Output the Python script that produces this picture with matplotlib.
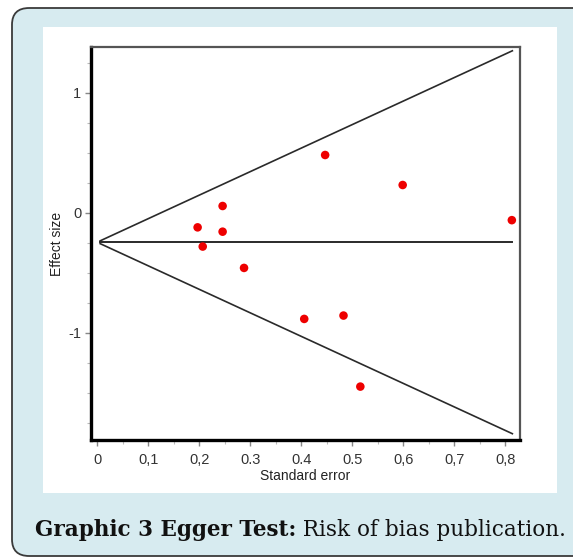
import matplotlib
matplotlib.use("Agg")
import matplotlib.pyplot as plt
from matplotlib.patches import FancyBboxPatch, Rectangle
from matplotlib.ticker import MultipleLocator, FixedLocator
import numpy as np

plt.rcParams['axes.unicode_minus'] = False

# Data
std_error = [0.197, 0.207, 0.246, 0.246, 0.288, 0.406, 0.447, 0.483, 0.516, 0.599, 0.813]
effect_size = [-0.12, -0.28, 0.058, -0.156, -0.458, -0.883, 0.483, -0.855, -1.447, 0.233, -0.06]
pooled = -0.244
z = 1.96
line_x = [0.006, 0.814]
x_ticks = [0, 0.1, 0.2, 0.3, 0.4, 0.5, 0.6, 0.7, 0.8]
x_tick_labels = ["0", "0,1", "0,2", "0.3", "0.4", "0.5", "0,6", "0,7", "0,8"]
y_ticks = [-1, 0, 1]
y_tick_labels = ["-1", "0", "1"]
caption_bold = "Graphic 3 Egger Test:"
caption_rest = " Risk of bias publication."

W, H = 573, 557
fig = plt.figure(figsize=(W / 100, H / 100), dpi=100)
fig.patch.set_facecolor("white")

def fx(px):
    return px / W

def fy(py):
    return 1 - py / H

# outer rounded box
box = FancyBboxPatch((fx(12), fy(556)), fx(600), fy(8) - fy(556),
                     boxstyle="round,pad=0,rounding_size=0.03",
                     transform=fig.transFigure, facecolor="#d7ebf0",
                     edgecolor="#3a3a3a", linewidth=1.3, zorder=0)
fig.patches.append(box)
# white panel
panel = Rectangle((fx(43), fy(493)), fx(514), fy(27) - fy(493),
                  transform=fig.transFigure, facecolor="white",
                  edgecolor="none", zorder=0.5)
fig.patches.append(panel)

ax = fig.add_axes([fx(91), fy(440), fx(520) - fx(91), fy(47) - fy(440)])
ax.set_zorder(2)
ax.set_facecolor("white")
ax.set_xlim(-0.012, 0.829)
ax.set_ylim(-1.892, 1.383)

xs = np.array(line_x)
ax.plot(xs, pooled + z * xs, color="#2a2a2a", lw=1.2, zorder=2)
ax.plot(xs, pooled - z * xs, color="#2a2a2a", lw=1.2, zorder=2)
ax.plot(xs, [pooled, pooled], color="#2a2a2a", lw=1.4, zorder=2)
ax.scatter(std_error, effect_size, s=38, color="#ee0000", edgecolors="none", zorder=3)

for side in ["left", "bottom"]:
    ax.spines[side].set_linewidth(2.4)
    ax.spines[side].set_color("black")
for side in ["top", "right"]:
    ax.spines[side].set_linewidth(1.6)
    ax.spines[side].set_color("#555555")

ax.xaxis.set_major_locator(FixedLocator(x_ticks))
ax.set_xticklabels(x_tick_labels)
ax.xaxis.set_minor_locator(MultipleLocator(0.05))
ax.yaxis.set_major_locator(FixedLocator(y_ticks))
ax.set_yticklabels(y_tick_labels)
ax.yaxis.set_minor_locator(MultipleLocator(0.25))

ax.tick_params(axis="both", which="major", direction="out", length=4, width=1,
               color="#888888", labelsize=10.5, labelcolor="#333333", pad=3)
ax.tick_params(axis="x", which="major", pad=5)
ax.tick_params(axis="both", which="minor", direction="out", length=3, width=0.8,
               color="#bbbbbb")
for lab in ax.get_xticklabels() + ax.get_yticklabels():
    lab.set_fontfamily("Liberation Sans")

ax.set_xlabel("Standard error", fontsize=10, family="Liberation Sans",
              color="#222222", labelpad=2)
ax.set_ylabel("Effect size", fontsize=10, family="Liberation Sans",
              color="#222222", labelpad=3)

# caption
fs = 17
fig.canvas.draw()
r = fig.canvas.get_renderer()
t1 = fig.text(0, fy(530), caption_bold, fontsize=fs, family="DejaVu Serif",
              weight="bold", va="center", ha="left", color="#111111")
t2 = fig.text(0, fy(530), caption_rest, fontsize=fs, family="DejaVu Serif",
              va="center", ha="left", color="#111111")
w1 = t1.get_window_extent(r).width
w2 = t2.get_window_extent(r).width
target = 531.0
scale = target / (w1 + w2)
fs2 = fs * scale
t1.set_fontsize(fs2)
t2.set_fontsize(fs2)
w1 = t1.get_window_extent(r).width
w2 = t2.get_window_extent(r).width
x0 = 300.5 - (w1 + w2) / 2
t1.set_x(fx(x0))
t2.set_x(fx(x0 + w1))

fig.savefig("out.png", dpi=100, facecolor="white")
